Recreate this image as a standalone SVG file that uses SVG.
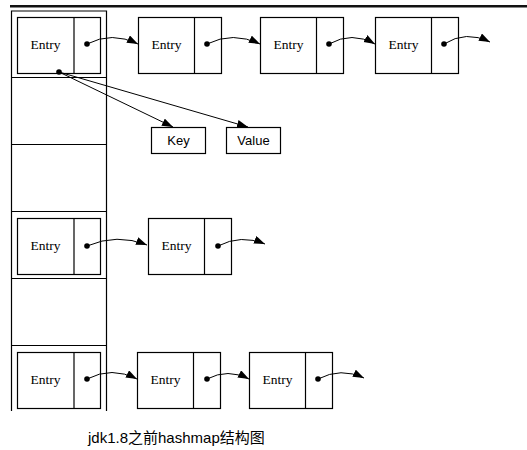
<svg xmlns="http://www.w3.org/2000/svg" width="527" height="450" viewBox="0 0 527 450">
<defs>
<marker id="ah" markerUnits="userSpaceOnUse" markerWidth="12" markerHeight="9" refX="11" refY="4" orient="auto">
<path d="M0,0 L11,4 L0,8 z" fill="#000"/>
</marker>
<style>
.box{fill:#fff;stroke:#000;stroke-width:1.2}
.ln{fill:none;stroke:#000;stroke-width:1.2}
.arr{fill:none;stroke:#000;stroke-width:1;marker-end:url(#ah)}
.dot{fill:#000}
.et{font-family:"Liberation Serif",serif;font-size:13.5px;text-anchor:middle;fill:#000}
.kv{font-family:"Liberation Sans",Arial,sans-serif;font-size:13px;text-anchor:middle;fill:#000}
.cap{font-family:"Liberation Sans","Noto Sans CJK SC",sans-serif;font-size:15px;fill:#000}
</style>
</defs>
<rect width="527" height="450" fill="#fff"/>
<rect x="10" y="5" width="517" height="2.5" fill="#111"/>
<g id="table">
<path class="ln" d="M11.5,411 V11 H106.5 V411 M11.5,77.5 H106.5 M11.5,144.5 H106.5 M11.5,211.5 H106.5 M11.5,278.5 H106.5 M11.5,345.5 H106.5"/>
</g>
<g id="e1"><rect class="box" x="17.5" y="17.5" width="83" height="56"/><line class="ln" x1="74" y1="17.5" x2="74" y2="73.5"/><text class="et" x="45.5" y="48.5">Entry</text></g>
<g id="e2"><rect class="box" x="138.5" y="17.5" width="83" height="56"/><line class="ln" x1="194.5" y1="17.5" x2="194.5" y2="73.5"/><text class="et" x="166.5" y="48.5">Entry</text></g>
<g id="e3"><rect class="box" x="260.5" y="17.5" width="83" height="56"/><line class="ln" x1="316.5" y1="17.5" x2="316.5" y2="73.5"/><text class="et" x="288.5" y="48.5">Entry</text></g>
<g id="e4"><rect class="box" x="375.5" y="17.5" width="83" height="56"/><line class="ln" x1="431.5" y1="17.5" x2="431.5" y2="73.5"/><text class="et" x="403.5" y="48.5">Entry</text></g>
<g id="key"><rect class="box" x="151.5" y="127.5" width="54" height="26"/><text class="kv" x="178.5" y="144.5">Key</text></g>
<g id="value"><rect class="box" x="226.5" y="127.5" width="54" height="26"/><text class="kv" x="253.5" y="144.5">Value</text></g>
<g id="e5"><rect class="box" x="17.5" y="218.5" width="83" height="56"/><line class="ln" x1="74" y1="218.5" x2="74" y2="274.5"/><text class="et" x="45.5" y="250">Entry</text></g>
<g id="e6"><rect class="box" x="148.5" y="218.5" width="83" height="56"/><line class="ln" x1="204.5" y1="218.5" x2="204.5" y2="274.5"/><text class="et" x="176.5" y="250">Entry</text></g>
<g id="e7"><rect class="box" x="17.5" y="352.5" width="83" height="56"/><line class="ln" x1="74" y1="352.5" x2="74" y2="408.5"/><text class="et" x="45.5" y="384">Entry</text></g>
<g id="e8"><rect class="box" x="137.5" y="352.5" width="83" height="56"/><line class="ln" x1="193.5" y1="352.5" x2="193.5" y2="408.5"/><text class="et" x="165.5" y="384">Entry</text></g>
<g id="e9"><rect class="box" x="249.5" y="352.5" width="83" height="56"/><line class="ln" x1="305.5" y1="352.5" x2="305.5" y2="408.5"/><text class="et" x="277.5" y="384">Entry</text></g>
<g id="connectors">
<path class="arr" d="M87,44 Q112,31 138,44"/>
<path class="arr" d="M207,44 Q233,31 260,44"/>
<path class="arr" d="M329,44 Q352,31 375,44"/>
<path class="arr" d="M444,44 Q466,30 490,42"/>
<path class="arr" d="M59,72 L173,127"/>
<path class="arr" d="M59,72 L248,127"/>
<path class="arr" d="M87,246 Q117,233 147,245"/>
<path class="arr" d="M218,246 Q241,234 265,244"/>
<path class="arr" d="M87,379 Q112,366 137,379"/>
<path class="arr" d="M207,379 Q228,368 249,379"/>
<path class="arr" d="M318,379 Q341,367 364,378"/>
<circle class="dot" cx="87" cy="44" r="2.8"/>
<circle class="dot" cx="207" cy="44" r="2.8"/>
<circle class="dot" cx="329" cy="44" r="2.8"/>
<circle class="dot" cx="444" cy="44" r="2.8"/>
<circle class="dot" cx="59" cy="72" r="2.8"/>
<circle class="dot" cx="87" cy="246" r="2.8"/>
<circle class="dot" cx="218" cy="246" r="2.8"/>
<circle class="dot" cx="87" cy="379" r="2.8"/>
<circle class="dot" cx="207" cy="379" r="2.8"/>
<circle class="dot" cx="318" cy="379" r="2.8"/>
</g>
<text class="cap" x="88" y="443">jdk1.8之前hashmap结构图</text>
</svg>
